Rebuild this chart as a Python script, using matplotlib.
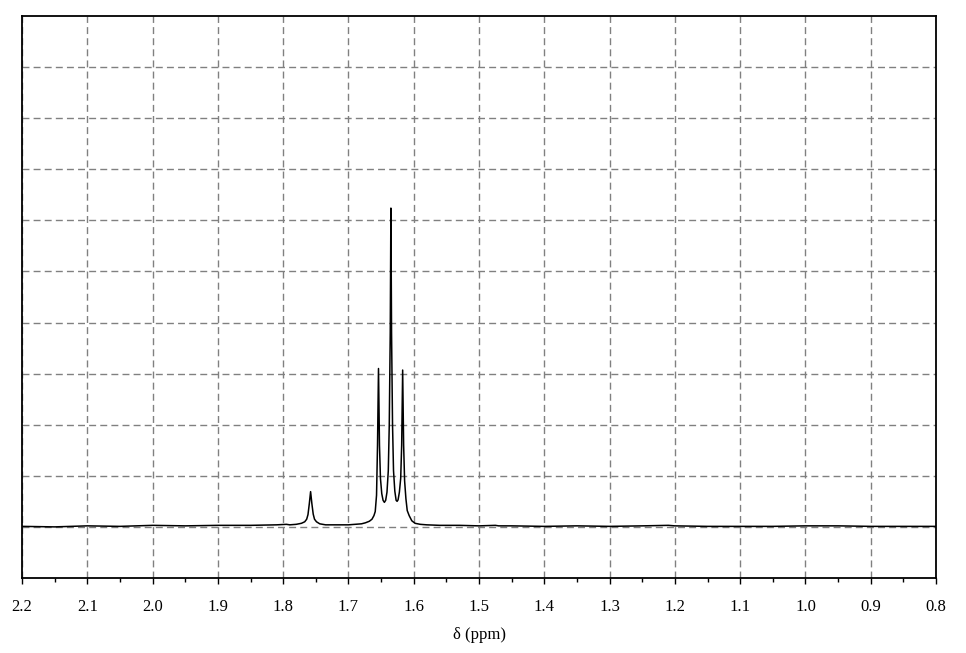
import matplotlib.pyplot as plt
from matplotlib.ticker import MultipleLocator, NullFormatter

# spectrum: chemical shift (ppm) and intensity (grid units)
ppm = [2.20, 2.15, 2.10, 2.05, 2.00, 1.95, 1.90, 1.85, 1.81, 1.795, 1.790,
       1.780, 1.772, 1.767, 1.764, 1.762, 1.760, 1.758, 1.756, 1.754, 1.752,
       1.749, 1.744, 1.735, 1.720,
       1.700, 1.690, 1.680, 1.674, 1.668, 1.664, 1.661, 1.659, 1.657, 1.6555,
       1.654, 1.6525, 1.651, 1.649, 1.647, 1.645, 1.643, 1.641, 1.639, 1.6375,
       1.636, 1.635, 1.634, 1.6325, 1.631, 1.629, 1.627, 1.6255, 1.624, 1.622,
       1.620, 1.6185, 1.617, 1.6155, 1.614, 1.612, 1.610, 1.607, 1.603, 1.598,
       1.590, 1.580, 1.560, 1.530, 1.500, 1.475, 1.470, 1.450, 1.400, 1.350,
       1.300, 1.250, 1.210, 1.200, 1.150, 1.100, 1.050, 1.000, 0.950, 0.900,
       0.850, 0.800]
intensity = [0.01, 0.00, 0.02, 0.01, 0.03, 0.02, 0.03, 0.03, 0.04, 0.05, 0.04,
             0.05, 0.07, 0.10, 0.15, 0.24, 0.45, 0.69, 0.45, 0.25, 0.15,
             0.10, 0.06, 0.04, 0.04,
             0.04, 0.05, 0.06, 0.08, 0.11, 0.15, 0.22, 0.30, 0.62, 1.60,
             3.10, 1.60, 0.95, 0.65, 0.52, 0.48, 0.52, 0.68, 1.10, 2.00,
             3.80, 6.24, 3.80, 2.00, 1.10, 0.70, 0.52, 0.50, 0.53, 0.68,
             0.95, 1.60, 3.07, 1.60, 0.90, 0.55, 0.32, 0.22, 0.12, 0.07,
             0.05, 0.04, 0.03, 0.03, 0.02, 0.03, 0.02, 0.02, 0.01, 0.02,
             0.01, 0.02, 0.03, 0.02, 0.01, 0.01, 0.01, 0.02, 0.02, 0.01,
             0.01, 0.01]

plt.rcParams["font.family"] = ["Liberation Serif", "DejaVu Serif"]

fig = plt.figure(figsize=(9.66, 6.53), dpi=100)
ax = fig.add_axes([0.0228, 0.1149, 0.9462, 0.8606])

ax.plot(ppm, intensity, color="black", linewidth=1.1, zorder=3)

ax.set_xlim(2.2, 0.8)
ax.set_ylim(-1.0, 10.0)
ax.xaxis.set_major_locator(MultipleLocator(0.1))
ax.xaxis.set_minor_locator(MultipleLocator(0.05))
ax.xaxis.set_major_formatter(plt.FuncFormatter(lambda v, p: f"{v:.1f}"))
ax.set_yticks(range(0, 10))
ax.yaxis.set_major_formatter(NullFormatter())
ax.tick_params(axis="y", length=0)
ax.tick_params(axis="x", which="major", direction="out", length=4, width=1,
               labelsize=12, pad=11)
ax.tick_params(axis="x", which="minor", direction="out", length=3, width=1)

ax.grid(True, color="#808080", linestyle=(0, (5, 3)), linewidth=1)
ax.set_axisbelow(True)
for s in ax.spines.values():
    s.set_linewidth(1.3)

ax.set_xlabel("δ (ppm)", fontsize=12, labelpad=9)

plt.savefig("out.png", dpi=100)
